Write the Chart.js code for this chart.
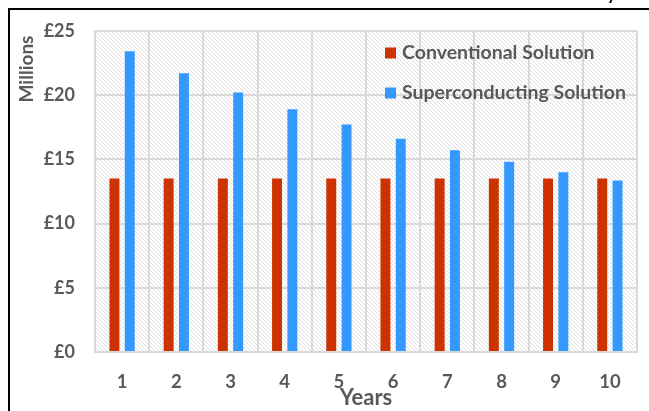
<!DOCTYPE html>
<html>
<head>
<meta charset="utf-8">
<script src="https://cdn.jsdelivr.net/npm/chart.js@4"></script>
<style>
  html, body { margin: 0; padding: 0; background: #fff; }
  #wrap { position: relative; width: 649px; height: 411px; overflow: hidden; }
  #frame { position: absolute; left: 8px; top: 8px; right: -4px; bottom: -4px; border-left: 2px solid #000; border-top: 2px solid #000; }
  #cut { position: absolute; left: 607px; top: -17px; font: bold 17px Lato, sans-serif; color: #000; }
  canvas { position: absolute; left: 0; top: 0; }
</style>
</head>
<body>
<div id="wrap">
  <div id="cut">y</div>
  <div id="frame"></div>
  <canvas id="chart" width="649" height="411"></canvas>
</div>
<script>
const years = ['1', '2', '3', '4', '5', '6', '7', '8', '9', '10'];
const conventional = [13.5, 13.5, 13.5, 13.5, 13.5, 13.5, 13.5, 13.5, 13.5, 13.5];
const superconducting = [23.4, 21.7, 20.2, 18.9, 17.7, 16.6, 15.7, 14.8, 14.0, 13.35];
const seriesNames = ['Conventional Solution', 'Superconducting Solution'];
const seriesColors = ['#cc3300', '#3399ff'];

const FONT = 'Lato, "Open Sans", sans-serif';
const GREY = '#595959';

function hatch() {
  const c = document.createElement('canvas');
  c.width = 4; c.height = 4;
  const g = c.getContext('2d');
  g.fillStyle = '#ffffff';
  g.fillRect(0, 0, 4, 4);
  g.strokeStyle = '#dedede';
  g.lineWidth = 1;
  g.beginPath();
  g.moveTo(-1, -1); g.lineTo(5, 5);
  g.moveTo(-1, 3); g.lineTo(1, 5);
  g.moveTo(3, -1); g.lineTo(5, 1);
  g.stroke();
  return g.createPattern(c, 'repeat');
}

const plotBg = {
  id: 'plotBg',
  beforeDraw(chart) {
    const { ctx, chartArea: a } = chart;
    ctx.save();
    ctx.fillStyle = hatch();
    ctx.fillRect(a.left, a.top, a.right - a.left, a.bottom - a.top);
    ctx.restore();
  }
};

// legend sits inside the plot, top right; y title drawn at the top of the axis
const labelsPlugin = {
  id: 'labelsPlugin',
  afterDatasetsDraw(chart) {
    const ctx = chart.ctx;
    ctx.save();
    ctx.font = 'bold 19.5px ' + FONT;
    ctx.textBaseline = 'middle';
    seriesNames.forEach((name, i) => {
      const y = 53 + i * 40;
      ctx.fillStyle = seriesColors[i];
      ctx.fillRect(385, y - 5.5, 11, 11);
      ctx.fillStyle = GREY;
      ctx.fillText(name, 402, y);
    });
    ctx.translate(27, 69);
    ctx.rotate(-Math.PI / 2);
    ctx.textAlign = 'center';
    ctx.font = 'bold 19px ' + FONT;
    ctx.fillText('Millions', 0, 0);
    ctx.restore();
  }
};

new Chart(document.getElementById('chart'), {
  type: 'bar',
  data: {
    labels: years,
    datasets: [
      { label: seriesNames[0], data: conventional, backgroundColor: seriesColors[0] },
      { label: seriesNames[1], data: superconducting, backgroundColor: seriesColors[1] },
    ]
  },
  options: {
    responsive: false,
    animation: false,
    devicePixelRatio: 1,
    categoryPercentage: 0.565,
    barPercentage: 0.65,
    layout: { padding: { left: 12, right: 12, top: 27, bottom: 0 } },
    plugins: { legend: { display: false }, tooltip: { enabled: false } },
    scales: {
      x: {
        grid: { color: '#d9d9d9', lineWidth: 2, drawTicks: false },
        border: { color: '#d9d9d9', width: 2 },
        ticks: { color: GREY, font: { family: FONT, size: 18.5, weight: 'bold' }, padding: 19 },
        title: { display: true, text: 'Years', color: GREY, font: { family: FONT, size: 22, weight: 'bold' }, padding: { top: -4, bottom: 0 } },
        afterFit: s => { s.height = 59; }
      },
      y: {
        min: 0, max: 25,
        grid: { color: '#d9d9d9', lineWidth: 2, drawTicks: false },
        border: { color: '#d9d9d9', width: 2 },
        ticks: { stepSize: 5, color: GREY, font: { family: FONT, size: 18, weight: 'bold' }, padding: 20, callback: v => '£' + v },
        afterFit: s => { s.width = 83; }
      }
    }
  },
  plugins: [plotBg, labelsPlugin]
});
</script>
</body>
</html>
